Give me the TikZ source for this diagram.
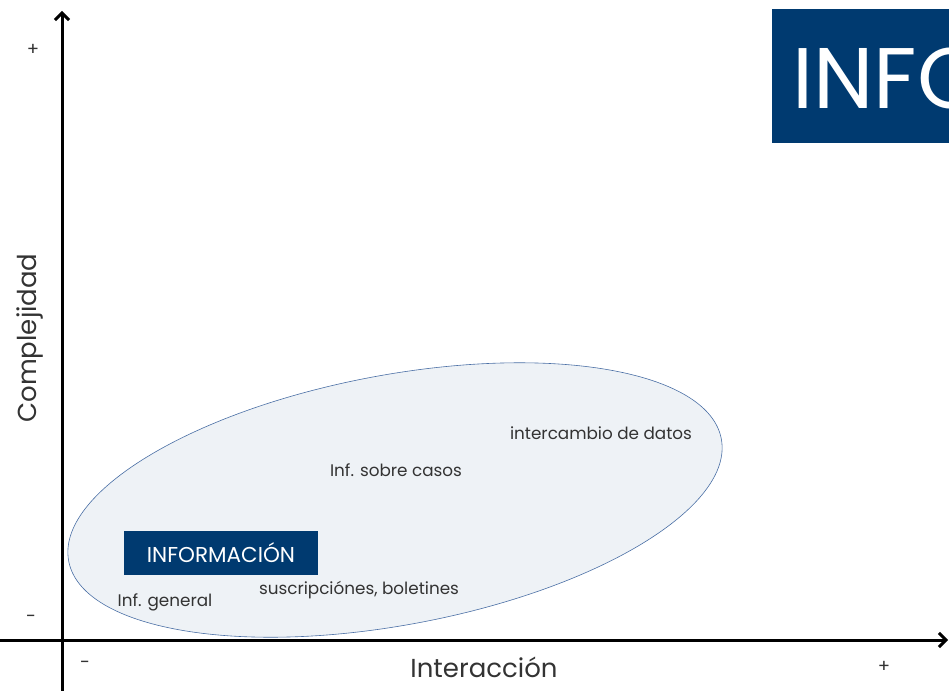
\documentclass[tikz,border=0pt]{standalone}
\usepackage{fontspec}
\setmainfont{Poppins}
\usetikzlibrary{arrows.meta}
\definecolor{navy}{HTML}{003A70}
\definecolor{ellfill}{HTML}{EEF2F6}
\definecolor{ellline}{HTML}{4A6FA5}
\definecolor{txt}{HTML}{333333}
\begin{document}
\begin{tikzpicture}[x=1pt,y=-1pt,
  axis/.style={line width=3pt,-{Straight Barb[length=7pt,width=14pt,line width=3pt]}},
  lbl/.style={text=txt,font=\fontsize{16.8}{19}\selectfont,inner sep=0pt},
  sgn/.style={text=txt,font=\fontsize{18}{20}\selectfont,inner sep=0pt},
  title/.style={text=txt,font=\fontsize{26}{30}\selectfont,inner sep=0pt}]
\useasboundingbox (0,0) rectangle (949,690);
\begin{scope}
\clip (0,0) rectangle (949,690);
% top-right banner
\fill[navy] (772,9) rectangle (960,143);
\node[anchor=base west,text=white,font=\fontsize{86}{90}\selectfont,inner sep=0pt] (infobig) at (792,108) {INFO};
% ellipse
\draw[fill=ellfill,draw=ellline,line width=0.6pt] (395,500) ellipse[x radius=332,y radius=125,rotate=10.6];
% axes
\coordinate (yb) at (62,692);
\coordinate (yt) at (62,11);
\coordinate (xl) at (0,640);
\coordinate (xr) at (948,640);
\draw[axis] (yb) -- (yt);
\draw[axis] (xl) -- (xr);
\end{scope}
% box
\node[fill=navy,text=white,minimum width=194pt,minimum height=44pt,inner sep=0pt,font=\fontsize{21.5}{24}\selectfont] (infobox) at (221,553) {INFORMACIÓN};
% labels
\node[lbl] (a) at (601,433) {intercambio de datos};
\node[lbl] (b) at (396,470) {Inf. sobre casos};
\node[lbl] (c) at (359,590) {suscripciónes, boletines};
\node[lbl] (d) at (165,602) {Inf. general};
\node[title] (xt) at (484,667) {Interacción};
\node[title,rotate=90] (yt2) at (30,338) {Complejidad};
\node[sgn] (yp) at (33,50) {+};
\node[sgn] (ym) at (31,619) {-};
\node[sgn] (xm) at (85,665) {-};
\node[sgn] (xp) at (884,667) {+};
\end{tikzpicture}
\end{document}
